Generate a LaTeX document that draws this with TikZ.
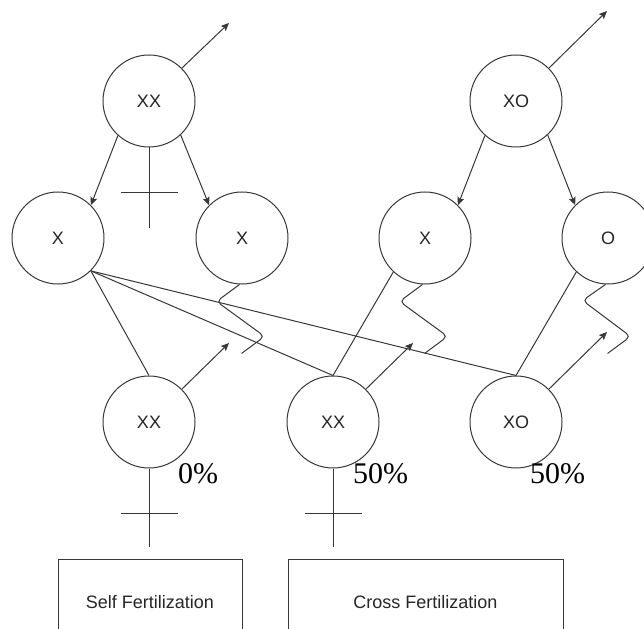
\documentclass[tikz,border=0pt]{standalone}
\usepackage{fontspec}
\setmainfont{Liberation Serif}
\setsansfont{Liberation Sans}
\usetikzlibrary{arrows.meta}
\definecolor{ink}{RGB}{55,55,55}
\tikzset{
  cell/.style={circle, draw=ink, line width=1pt, minimum size=92pt, inner sep=0pt,
               font=\sffamily\fontsize{18}{18}\selectfont, text=black!85},
  plate/.style={rectangle, draw=ink, line width=1pt, anchor=north, inner sep=0pt,
                minimum height=86pt, font=\sffamily\fontsize{18}{18}\selectfont, text=black!85},
  wire/.style={draw=ink, line width=1pt},
  arr/.style={wire, -{Stealth[length=8pt,width=7pt,inset=1.5pt]}},
  tube/.style={wire, rounded corners=5pt},
  pct/.style={anchor=base west, inner sep=0pt, font=\fontsize{30}{30}\selectfont, text=black}
}
\begin{document}
\begin{tikzpicture}[x=1pt, y=-1pt]
\useasboundingbox (0,0) rectangle (644,628);
\clip (0,0) rectangle (644,628);

% parents
\node[cell] (tx) at (149,101) {XX};
\node[cell] (to) at (516,101) {XO};

% gametes
\node[cell] (x1) at (58,238) {X};
\node[cell] (x2) at (242,238) {X};
\node[cell] (x3) at (425,238) {X};
\node[cell] (o1) at (608,238) {O};

% offspring
\node[cell] (bxx1) at (149,422) {XX};
\node[cell] (bxx2) at (333,422) {XX};
\node[cell] (bxo)  at (516,422) {XO};

% outgoing arrow tips
\coordinate (ta) at (229,23);
\coordinate (tb) at (607,11);
\coordinate (ba) at (229,343);
\coordinate (bb) at (413,343);
\coordinate (bc) at (607,332);

\draw[arr] (tx.45) -- (ta);
\draw[arr] (to.45) -- (tb);
\draw[arr] (bxx1.45) -- (ba);
\draw[arr] (bxx2.45) -- (bb);
\draw[arr] (bxo.45) -- (bc);

% meiosis arrows
\draw[arr] (tx.-132) -- (x1.45);
\draw[arr] (tx.-47) -- (x2.135);
\draw[arr] (to.-132) -- (x3.45);
\draw[arr] (to.-47) -- (o1.135);

% female symbols
\coordinate (tcv) at (149,228);
\coordinate (tcl) at (121,193);
\coordinate (tcr) at (178,193);
\draw[wire] (tx.south) -- (tcv);
\draw[wire] (tcl) -- (tcr);

\coordinate (c1v) at (149,547);
\coordinate (c1l) at (121,513);
\coordinate (c1r) at (178,513);
\draw[wire] (bxx1.south) -- (c1v);
\draw[wire] (c1l) -- (c1r);

\coordinate (c2v) at (333,547);
\coordinate (c2l) at (305,513);
\coordinate (c2r) at (362,513);
\draw[wire] (bxx2.south) -- (c2v);
\draw[wire] (c2l) -- (c2r);

% fertilization lines
\draw[wire] (x1.-45) -- (bxx1.north);
\draw[wire] (x1.-45) -- (bxx2.north);
\draw[wire] (x1.-45) -- (bxo.north);
\draw[wire] (x3.-133) -- (bxx2.north);
\draw[wire] (o1.-133) -- (bxo.north);

% pollen tubes
\draw[tube] (x2.-93) -- ++(-23,17) -- ++(48,35) -- ++(-23,17);
\draw[tube] (x3.-93) -- ++(-23,17) -- ++(48,35) -- ++(-23,17);
\draw[tube] (o1.-93) -- ++(-23,16) -- ++(48,36) -- ++(-23,17);

% percentages
\node[pct] (p1) at (178,483) {0\%};
\node[pct] (p2) at (353,483) {50\%};
\node[pct] (p3) at (530,483) {50\%};

% captions
\node[plate, minimum width=184pt] (self) at (150,559) {Self Fertilization};
\node[plate, minimum width=275pt] (cross) at (425.5,559) {Cross Fertilization};
\end{tikzpicture}
\end{document}
